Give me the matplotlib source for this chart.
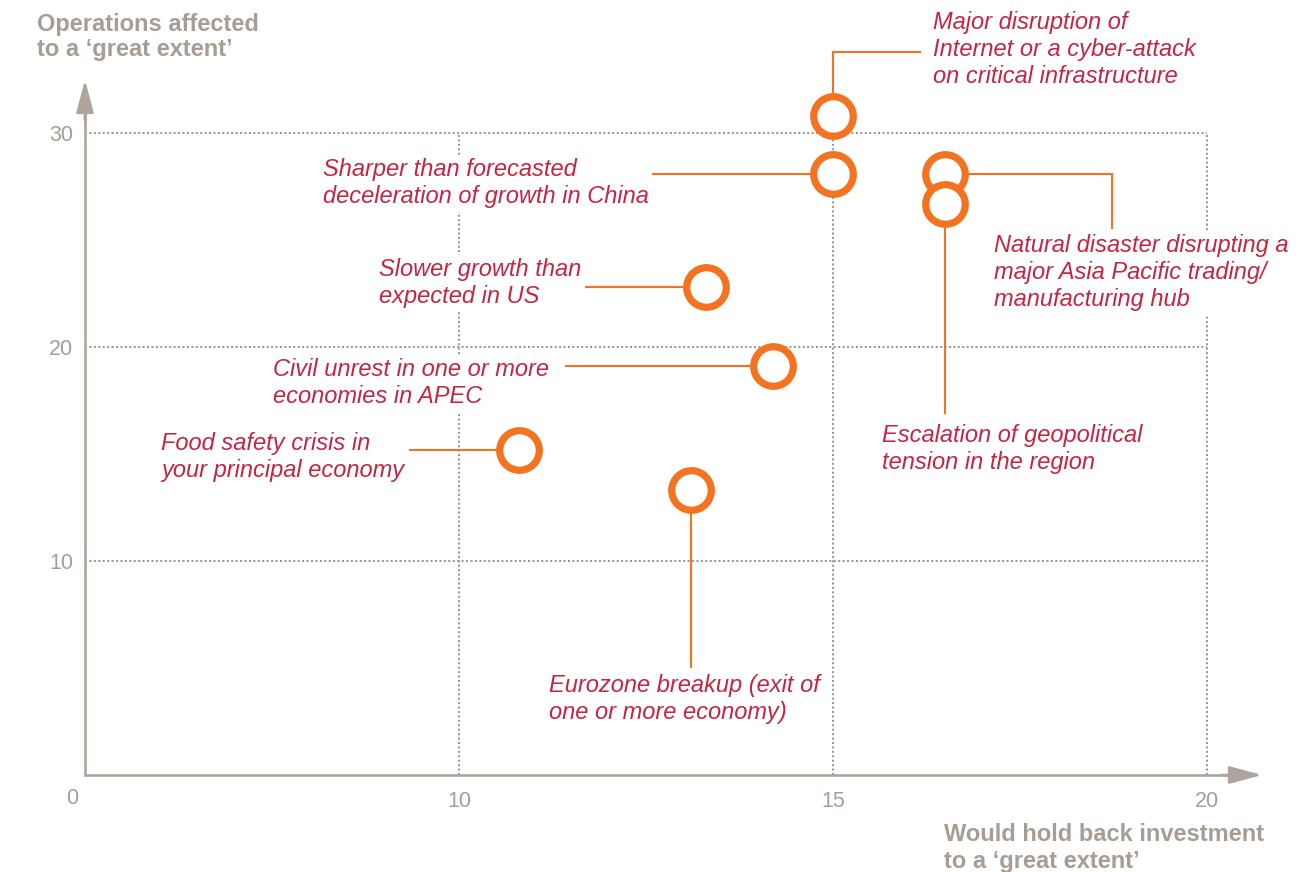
import matplotlib
matplotlib.use("Agg")
import matplotlib.pyplot as plt

# ---------------- data ----------------
risks = [
    "Major disruption of\nInternet or a cyber-attack\non critical infrastructure",
    "Sharper than forecasted\ndeceleration of growth in China",
    "Natural disaster disrupting a\nmajor Asia Pacific trading/\nmanufacturing hub",
    "Escalation of geopolitical\ntension in the region",
    "Slower growth than\nexpected in US",
    "Civil unrest in one or more\neconomies in APEC",
    "Food safety crisis in\nyour principal economy",
    "Eurozone breakup (exit of\none or more economy)",
]
hold_back_investment = [15.0, 15.0, 16.5, 16.5, 13.3, 14.2, 10.8, 13.1]
operations_affected = [30.8, 28.1, 28.1, 26.7, 22.8, 19.1, 15.2, 13.3]
x_ticks = [10, 15, 20]
y_ticks = [10, 20, 30]
origin_label = "0"
x_title = "Would hold back investment\nto a \u2018great extent\u2019"
y_title = "Operations affected\nto a \u2018great extent\u2019"

# ---------------- style ----------------
ORANGE = "#F37321"
RED = "#C62541"
TAN = "#A89D94"
AXIS = "#AFA49B"
GRID = "#9F9690"
FONT = "Liberation Sans"
LINE_PX = 21.4  # pixel height of one linespacing unit at 17pt

W, H, DPI = 1316, 872, 100
fig = plt.figure(figsize=(W / DPI, H / DPI), dpi=DPI)
fig.patch.set_facecolor("white")

# axes geometry (pixels)
AX_L, AX_R, AX_B, AX_T = 85, 1262, 775, 80
X0, X1 = 5.0, 5.0 + (AX_R - AX_L) / 74.8
Y0, Y1 = 0.0, (AX_B - AX_T) / 21.4
ax = fig.add_axes([AX_L / W, 1 - AX_B / H, (AX_R - AX_L) / W, (AX_B - AX_T) / H])
ax.set_xlim(X0, X1)
ax.set_ylim(Y0, Y1)
for s in ax.spines.values():
    s.set_visible(False)
ax.patch.set_alpha(0)


def dx(px):
    return X0 + (px - AX_L) / (AX_R - AX_L) * (X1 - X0)


def dy(py):
    return Y0 + (AX_B - py) / (AX_B - AX_T) * (Y1 - Y0)


def last_baseline(text, first_px, step_px):
    return first_px + (text.count("\n")) * step_px


# grid
ax.hlines(y_ticks, X0, max(x_ticks), colors=GRID, lw=1.45,
          linestyles=[(0, (1, 1.2))], zorder=1)
ax.vlines(x_ticks, Y0, max(y_ticks), colors=GRID, lw=1.45,
          linestyles=[(0, (1, 1.2))], zorder=1)

# axes with arrows
ax.plot([X0, X0, dx(AX_R - 20)], [dy(AX_T + 20), Y0, Y0], color=AXIS, lw=1.9,
        solid_joinstyle="miter", solid_capstyle="butt", clip_on=False, zorder=5)
arrow = dict(arrowstyle="-|>,head_length=1.0,head_width=0.27", mutation_scale=20,
             color=AXIS, lw=1.9, shrinkA=0, shrinkB=0)
ax.annotate("", xy=(X1, Y0), xytext=(dx(AX_R - 40), Y0), arrowprops=arrow,
            annotation_clip=False, zorder=5)
ax.annotate("", xy=(X0, Y1), xytext=(X0, dy(AX_T + 40)), arrowprops=arrow,
            annotation_clip=False, zorder=5)

# ticks
ax.set_xticks(x_ticks)
ax.set_xticklabels([str(v) for v in x_ticks])
ax.set_yticks(y_ticks)
ax.set_yticklabels([str(v) for v in y_ticks])
ax.tick_params(axis="both", length=0, labelsize=15.5, labelcolor=TAN)
ax.tick_params(axis="x", pad=11.8)
ax.tick_params(axis="y", pad=8.6)
for lbl in ax.get_xticklabels() + ax.get_yticklabels():
    lbl.set_fontfamily(FONT)
ax.text(dx(72), dy(804), origin_label, ha="center", va="baseline",
        fontsize=15.5, color=TAN, family=FONT, clip_on=False)

# axis titles
fig.text(37 / W, 1 - last_baseline(y_title, 32, 24) / H, y_title, ha="left",
         va="baseline", fontsize=17, fontweight="bold", color=TAN, family=FONT,
         linespacing=24 / LINE_PX)
fig.text(944 / W, 1 - last_baseline(x_title, 842, 26) / H, x_title, ha="left",
         va="baseline", fontsize=17, fontweight="bold", color=TAN, family=FONT,
         linespacing=26 / LINE_PX)

# label layout: (text left px, first baseline px) and leader route
text_pos = [(933, 31), (323, 177), (994, 254), (882, 443),
            (379, 277), (273, 377), (161, 451), (549, 693)]
routes = [("vh", 52, 920), ("h", 633), ("hv", 1112, 228), ("v", 413),
          ("h", 582), ("h", 566), ("h", 410), ("v", 667)]

for (name, x, y, (tx, ty), r) in zip(risks, hold_back_investment,
                                     operations_affected, text_pos, routes):
    if r[0] == "h":
        xs, ys = [x, dx(r[1])], [y, y]
    elif r[0] == "v":
        xs, ys = [x, x], [y, dy(r[1])]
    elif r[0] == "vh":
        xs, ys = [x, x, dx(r[2])], [y, dy(r[1]), dy(r[1])]
    else:  # "hv"
        xs, ys = [x, dx(r[1]), dx(r[1])], [y, y, dy(r[2])]
    ax.plot(xs, ys, color=ORANGE, lw=1.5, clip_on=False, zorder=2,
            solid_joinstyle="miter")
    ax.text(dx(tx), dy(last_baseline(name, ty, 26)), name, ha="left",
            va="baseline", fontsize=17, style="italic", color=RED, family=FONT,
            linespacing=26 / LINE_PX, zorder=3, clip_on=False,
            bbox=dict(boxstyle="square,pad=0.15", fc="white", ec="none"))

ax.scatter(hold_back_investment, operations_affected, s=28.5 ** 2,
           facecolors="white", edgecolors=ORANGE, linewidths=5.2, zorder=4,
           clip_on=False)

fig.savefig("out.png", dpi=DPI, facecolor="white")
